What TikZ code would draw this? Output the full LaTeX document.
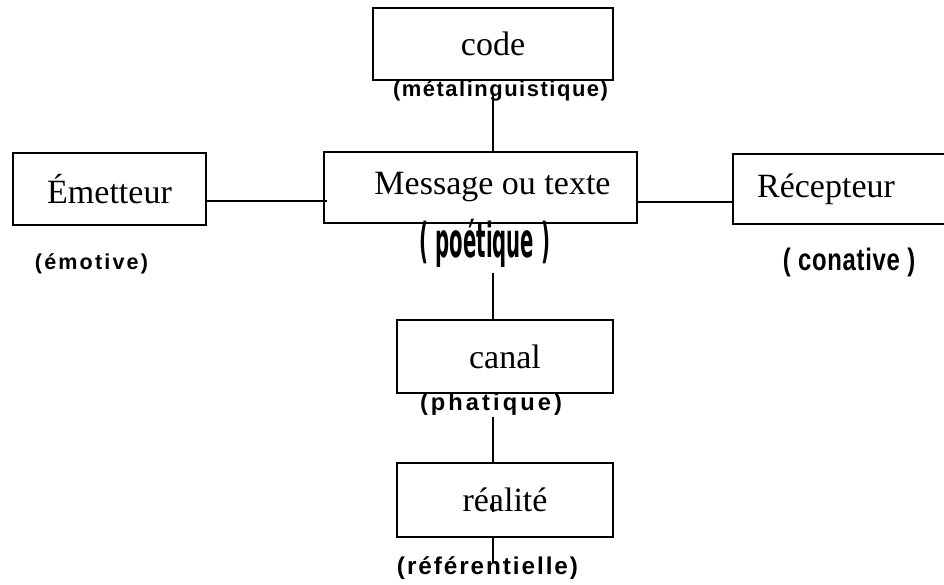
\documentclass[tikz,border=0pt]{standalone}
\usepackage{fontspec}
\usepackage{graphicx}
\setmainfont{Liberation Serif}
\newfontfamily\labfontA[LetterSpace=7]{Liberation Sans}
\newfontfamily\labfontB[LetterSpace=10]{Liberation Sans}
\newfontfamily\labfontC[LetterSpace=13]{Liberation Sans}
\newfontfamily\labfontD[LetterSpace=8]{Liberation Sans}
\newfontfamily\labfontE[LetterSpace=3]{Liberation Sans}
\newfontfamily\heavyfont{DejaVu Sans}
% width, font size, font switch, text
\newcommand{\lab}[4]{\resizebox{#1pt}{!}{#3\bfseries\fontsize{#2}{#2}\selectfont #4}}
\begin{document}
\begin{tikzpicture}[x=1pt,y=-1pt,
  box/.style={draw, line width=1.3pt, inner sep=0pt, font=\fontsize{34}{40}\selectfont},
  lbl/.style={inner sep=0pt},
  conn/.style={line width=1.1pt}]
\fill[white] (0,0) rectangle (944,585);
\clip (0,0) rectangle (944,585);
% boxes
\node[box, minimum width=240pt, minimum height=72pt] (code) at (493,44) {code};
\node[box, minimum width=193pt, minimum height=72pt] (em) at (109.5,189) {Émetteur};
\node[box, minimum width=313pt, minimum height=71pt] (msg) at (480.5,187.5) {\hspace*{24pt}Message ou texte};
\node[box, minimum width=227pt, minimum height=70pt] (rec) at (846.5,189) {Récepteur\hspace*{41pt}};
\node[box, minimum width=216pt, minimum height=73pt] (canal) at (505,356.5) {canal};
\node[box, minimum width=216pt, minimum height=74pt] (real) at (505,500) {réalité};
% connectors
\coordinate (c1) at (493,93);
\draw[conn] (c1) -- (c1 |- msg.north);
\coordinate (mL) at (327,201);
\draw[conn] (em.east |- mL) -- (mL);
\coordinate (hR) at (0,202);
\draw[conn] (msg.east |- hR) -- (rec.west |- hR);
\coordinate (v1) at (493,273);
\draw[conn] (v1) -- (v1 |- canal.north);
\coordinate (v2) at (493,417);
\draw[conn] (v2) -- (v2 |- real.north);
\coordinate (v3a) at (493,496);
\coordinate (v3b) at (493,512);
\draw[conn] (v3a) -- (v3b);
\coordinate (v4) at (493,563);
\draw[conn] (v4 |- real.south) -- (v4);
% labels
\node[lbl] (lmeta) at (500.5,91) {\lab{215}{19}{\labfontA}{(métalinguistique)}};
\node[lbl] (lemo) at (91.5,263.5) {\lab{113}{18}{\labfontB}{(émotive)}};
\node[lbl] (lpoe) at (485,243) {\scalebox{0.41}[1]{\heavyfont\bfseries\fontsize{48}{48}\selectfont ( poétique )}};
\node[lbl] (lcon) at (849,262.5) {\scalebox{0.77}[1]{\labfontE\bfseries\fontsize{31}{31}\selectfont ( conative )}};
\node[lbl] (lpha) at (491,404) {\lab{142}{19}{\labfontC}{(phatique)}};
\node[lbl] (lref) at (487.5,568) {\lab{181}{20}{\labfontD}{(référentielle)}};
\end{tikzpicture}
\end{document}
